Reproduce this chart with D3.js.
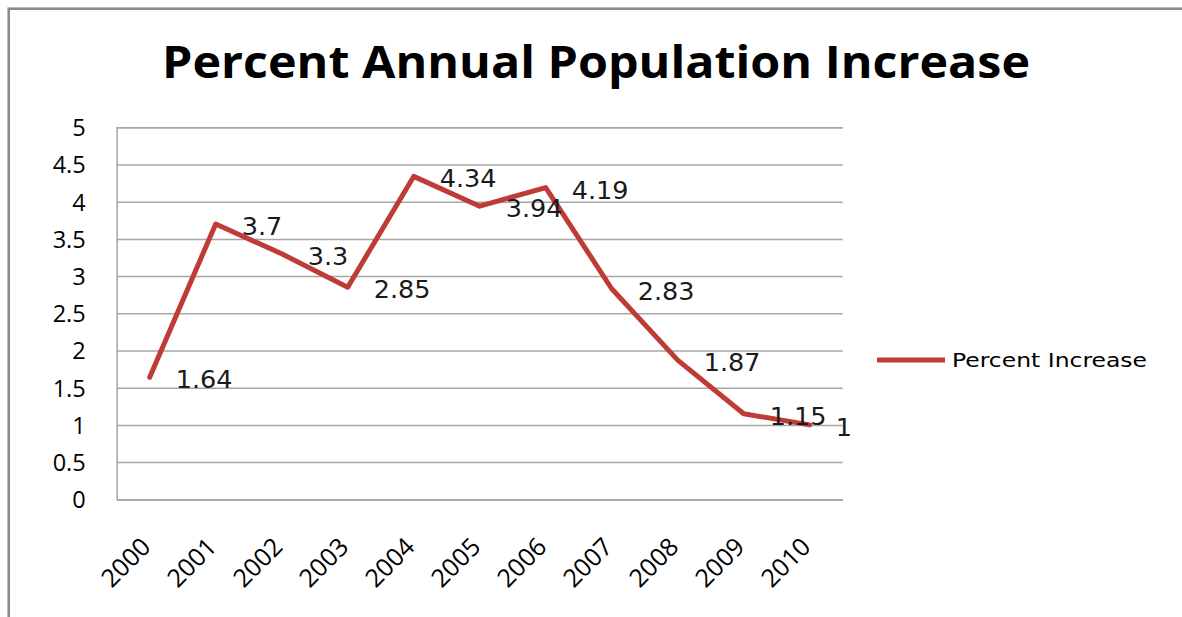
<!DOCTYPE html>
<html>
<head>
<meta charset="utf-8">
<script src="https://cdn.jsdelivr.net/npm/d3@7"></script>
<style>
    html, body { margin: 0; padding: 0; background: #ffffff; }
    #chart-svg { display: block; }
</style>
</head>
<body>
<svg id="chart-svg"></svg>
<script>
'use strict';

// chart data
const yearList = ["2000", "2001", "2002", "2003", "2004", "2005", "2006", "2007", "2008", "2009", "2010"];
const percentIncrease = [1.64, 3.7, 3.3, 2.85, 4.34, 3.94, 4.19, 2.83, 1.87, 1.15, 1];
const yTickValues = [0, 0.5, 1, 1.5, 2, 2.5, 3, 3.5, 4, 4.5, 5];
const chartTitle = "Percent Annual Population Increase";
const seriesName = "Percent Increase";

{ // start scope

//------------------------------------------------------------
// define line chart class
//------------------------------------------------------------
function LineChart() {
    this.width = 1182;
    this.height = 617;

    // plot area
    this.plotLeft = 116.7;
    this.plotRight = 842.7;
    this.plotTop = 127.3;
    this.plotBottom = 499.3;

    this.lineColor = "#bf3b36";
    this.gridColor = "#a6a6a6";

    this.svg = null;
    this.xScale = null;
    this.yScale = null;

    this.initialize = () => {
        this.svg = d3.select("#chart-svg")
            .attr("width", this.width)
            .attr("height", this.height);

        // outer frame (runs off the right and bottom edges)
        this.svg.append("rect")
            .attr("x", 8.7)
            .attr("y", 8.7)
            .attr("width", this.width + 20)
            .attr("height", this.height + 20)
            .style("fill", "none")
            .style("stroke", "#8c8c8c")
            .style("stroke-width", 2.6);

        this.xScale = d3.scalePoint()
            .domain(yearList)
            .range([this.plotLeft, this.plotRight])
            .padding(0.5);

        this.yScale = d3.scaleLinear()
            .domain([0, 5])
            .range([this.plotBottom, this.plotTop]);

        this.drawTitle();
        this.drawAxes();
        this.drawLine();
        this.drawLegend();
    };

    this.drawTitle = () => {
        this.svg.append("text")
            .attr("x", 596)
            .attr("y", 78)
            .attr("text-anchor", "middle")
            .attr("textLength", 868)
            .attr("lengthAdjust", "spacingAndGlyphs")
            .attr("font-family", "'Open Sans', sans-serif")
            .attr("font-weight", "bold")
            .attr("font-size", 44)
            .attr("fill", "#000000")
            .text(chartTitle);
    };

    this.drawAxes = () => {
        // horizontal gridlines
        let yAxis = d3.axisLeft(this.yScale)
            .tickValues(yTickValues)
            .tickSize(-(this.plotRight - this.plotLeft))
            .tickFormat(d3.format("~g"));

        let yAxisG = this.svg.append("g")
            .attr("transform", `translate(${this.plotLeft},0)`)
            .call(yAxis);

        yAxisG.select(".domain")
            .attr("stroke", this.gridColor)
            .attr("stroke-width", 1.5);

        yAxisG.selectAll(".tick line")
            .attr("stroke", this.gridColor)
            .attr("stroke-width", 1.5);

        yAxisG.selectAll(".tick text")
            .attr("x", -31)
            .attr("dy", "0.36em")
            .attr("font-family", "'Open Sans', sans-serif")
            .attr("font-size", 23.5)
            .attr("fill", "#000000");

        // category axis
        let xAxis = d3.axisBottom(this.xScale)
            .tickSize(0);

        let xAxisG = this.svg.append("g")
            .attr("transform", `translate(0,${this.plotBottom})`)
            .call(xAxis);

        xAxisG.select(".domain")
            .attr("stroke", this.gridColor)
            .attr("stroke-width", 1.5);

        xAxisG.selectAll(".tick text")
            .attr("x", 0)
            .attr("y", 0)
            .attr("dy", 0)
            .attr("text-anchor", "end")
            .attr("transform", "translate(2,49) rotate(-45)")
            .attr("font-family", "'Open Sans', sans-serif")
            .attr("font-size", 25)
            .attr("fill", "#000000");
    };

    this.drawLine = () => {
        let lineGen = d3.line()
            .x((d, i) => this.xScale(yearList[i]))
            .y((d) => this.yScale(d));

        this.svg.append("path")
            .datum(percentIncrease)
            .attr("d", lineGen)
            .style("fill", "none")
            .style("stroke", this.lineColor)
            .style("stroke-width", 5)
            .style("stroke-linejoin", "round")
            .style("stroke-linecap", "round");

        // data labels sit to the right of each point
        this.svg.append("g")
            .selectAll("text")
            .data(percentIncrease)
            .enter()
            .append("text")
            .attr("x", (d, i) => this.xScale(yearList[i]) + 26)
            .attr("y", (d) => this.yScale(d) + 11)
            .attr("font-family", "'DejaVu Sans', sans-serif")
            .attr("font-size", 25.5)
            .attr("fill", "#1a1a1a")
            .text((d) => d);
    };

    this.drawLegend = () => {
        let legendG = this.svg.append("g");

        legendG.append("line")
            .attr("x1", 877)
            .attr("x2", 945)
            .attr("y1", 360)
            .attr("y2", 360)
            .style("stroke", this.lineColor)
            .style("stroke-width", 5);

        legendG.append("text")
            .attr("x", 952)
            .attr("y", 367)
            .attr("textLength", 195)
            .attr("lengthAdjust", "spacingAndGlyphs")
            .attr("font-family", "'DejaVu Sans', sans-serif")
            .attr("font-size", 20)
            .attr("fill", "#000000")
            .text(seriesName);
    };
}


//------------------------------------------------------------
// define main onload event
//------------------------------------------------------------
window.addEventListener("load", (event) => {

let chart = new LineChart();
chart.initialize();

}); // end window.addEventListener("load", ...)
} // end scope
</script>
</body>
</html>
